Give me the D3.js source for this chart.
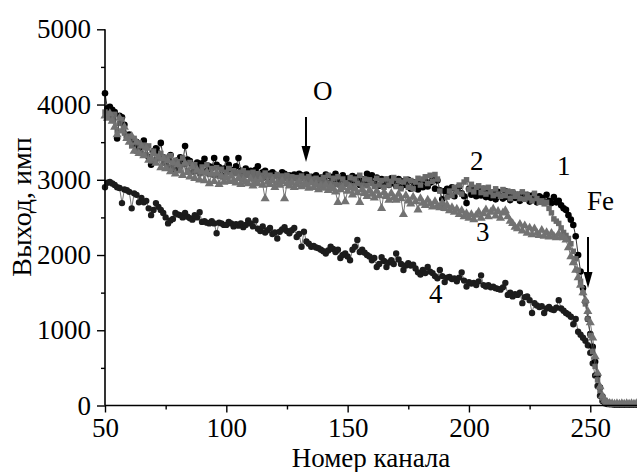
<!DOCTYPE html>
<html>
<head>
<meta charset="utf-8">
<script src="https://cdnjs.cloudflare.com/ajax/libs/d3/7.8.5/d3.min.js"></script>
<style>
  html, body { margin: 0; padding: 0; background: #fff; }
  svg { display: block; }
  text { font-family: "Liberation Serif", "Times New Roman", serif; fill: #000; }
</style>
</head>
<body>
<svg id="chart" width="637" height="472"></svg>
<script>
// ---- DATA (channel 50 .. 270, one value per channel) ----
const channelStart = 50;
const channelEnd = 270;
const xTicks = [50, 100, 150, 200, 250];
const xMinorTicks = [75, 125, 175, 225];
const yTicks = [0, 1000, 2000, 3000, 4000, 5000];
const yMinorTicks = [500, 1500, 2500, 3500, 4500];
const xTitle = "Номер канала";
const yTitle = "Выход, имп";

const series1 = [
  4150, 3950, 3970, 3930, 3900, 3550, 3850, 3830, 3730, 3570,
  3600, 3530, 3480, 3500, 3420, 3460, 3520, 3440, 3300, 3200,
  3380, 3420, 3350, 3490, 3300, 3220, 3280, 3330, 3180, 3130,
  3260, 3300, 3220, 3450, 3270, 3250, 3200, 3150, 3230, 3170,
  3220, 3280, 3120, 3180, 3160, 3290, 3200, 3170, 3060, 3150,
  3280, 3200, 3100, 3130, 3180, 3290, 3120, 3060, 3150, 3100,
  3120, 3080, 3130, 3180, 3050, 3100, 3120, 3030, 3080, 3100,
  3070, 3050, 3020, 3100, 3080, 3050, 3060, 3020, 3070, 3050,
  3080, 3060, 3050, 3070, 3000, 3040, 3020, 3060, 2990, 3030,
  3010, 3070, 2950, 3040, 2980, 3080, 2940, 3010, 3060, 2960,
  3020, 2950, 3050, 2970, 3030, 2930, 3010, 2960, 3080, 3000,
  3060, 2950, 3030, 2920, 3010, 2940, 3000, 2930, 3020, 2950,
  2920, 3010, 2900, 2980, 2930, 3000, 2880, 2970, 2940, 2870,
  2960, 2900, 2990, 2910, 2960, 3000, 2880, 2990, 2860, 2740,
  2850, 2880, 2800, 2900, 2780, 2870, 2910, 2820, 2780, 2690,
  2880, 2800, 2870, 2780, 2850, 2790, 2880, 2770, 2840, 2760,
  2830, 2740, 2840, 2780, 2750, 2850, 2770, 2730, 2830, 2760,
  2800, 2720, 2820, 2750, 2800, 2710, 2790, 2740, 2700, 2780,
  2760, 2700, 2800, 2720, 2690, 2770, 2700, 2720, 2660, 2620,
  2600, 2530, 2470, 2400, 2250, 2000, 1780, 1560, 1380, 1150,
  950, 780, 580, 400, 240, 120, 60, 35, 25, 20,
  20, 15, 20, 15, 20, 15, 20, 15, 20, 15,
  20
];

const series2 = [
  3900, 3880, 3850, 3800, 3870, 3650, 3750, 3800, 3620, 3560,
  3580, 3450, 3550, 3380, 3490, 3350, 3460, 3330, 3450, 3250,
  3380, 3270, 3290, 3350, 3220, 3300, 3170, 3320, 3150, 3260,
  3240, 3170, 3290, 3200, 3120, 3230, 3100, 3200, 3110, 3080,
  3170, 3090, 3200, 3070, 3150, 3060, 3160, 3050, 3140, 3030,
  3100, 3150, 3070, 3120, 3080, 3100, 3050, 3120, 3060, 3090,
  3050, 3100, 3030, 3080, 3060, 3020, 3090, 3040, 3060, 3010,
  3040, 3070, 3000, 3050, 3020, 3060, 2990, 3040, 3010, 3030,
  3000, 3050, 3020, 2980, 3040, 3010, 2970, 3020, 3000, 2960,
  3030, 2960, 3060, 2950, 3020, 2940, 3040, 2930, 3010, 2960,
  2940, 3030, 2920, 3010, 2950, 3060, 2930, 3010, 2920, 3000,
  2950, 2910, 3020, 2930, 2990, 2900, 3010, 2930, 2980, 3030,
  2910, 2990, 2880, 2970, 3010, 2900, 2990, 2880, 2970, 3020,
  2930, 3010, 3040, 2950, 3060, 2980, 3070, 3010, 2850, 2680,
  2620, 2770, 2850, 2790, 2900, 2840, 2930, 2810, 2970, 3000,
  2870, 2940, 2840, 2900, 2920, 2830, 2890, 2810, 2900, 2840,
  2790, 2880, 2810, 2780, 2870, 2790, 2850, 2750, 2840, 2780,
  2810, 2750, 2840, 2740, 2800, 2760, 2720, 2820, 2750, 2700,
  2720, 2680, 2700, 2620, 2560, 2480, 2450, 2420, 2360, 2300,
  2260, 2220, 2150, 2050, 1950, 1800, 1650, 1500, 1350, 1150,
  930, 720, 520, 340, 200, 100, 50, 30, 20, 15,
  15, 20, 15, 20, 15, 20, 15, 20, 15, 20,
  15
];

const series3 = [
  3850, 3820, 3880, 3780, 3700, 3600, 3820, 3650, 3700, 3550,
  3500, 3580, 3380, 3500, 3350, 3450, 3320, 3420, 3260, 3280,
  3350, 3220, 3300, 3160, 3280, 3150, 3250, 3110, 3220, 3080,
  3200, 3120, 3060, 3220, 3100, 3040, 3170, 3020, 3130, 3000,
  3110, 2990, 3100, 2950, 3080, 2980, 3090, 2940, 3050, 2970,
  3030, 2980, 3050, 2990, 2960, 3020, 2940, 3000, 2970, 2950,
  3010, 2920, 2980, 2950, 3000, 2930, 2750, 2970, 2940, 2990,
  2900, 2960, 2930, 2980, 2750, 2950, 2920, 2960, 2900, 2940,
  2970, 2910, 2950, 2930, 2890, 2960, 2900, 2940, 2870, 2920,
  2890, 2930, 2860, 2910, 2880, 2840, 2700, 2870, 2900, 2710,
  2850, 2900, 2800, 2880, 2830, 2700, 2870, 2820, 2780, 2860,
  2810, 2760, 2850, 2790, 2620, 2830, 2780, 2730, 2820, 2760,
  2730, 2810, 2750, 2540, 2790, 2720, 2680, 2770, 2710, 2600,
  2750, 2690, 2660, 2730, 2680, 2640, 2710, 2650, 2630, 2690,
  2620, 2660, 2590, 2630, 2570, 2610, 2540, 2590, 2510, 2550,
  2490, 2540, 2470, 2530, 2570, 2490, 2550, 2600, 2510, 2570,
  2610, 2520, 2580, 2490, 2560, 2590, 2510, 2450, 2420, 2370,
  2350, 2410, 2320, 2390, 2290, 2360, 2270, 2350, 2290, 2260,
  2330, 2250, 2300, 2240, 2290, 2250, 2230, 2280, 2240, 2230,
  2200, 2100, 1980, 1900, 1800, 1700, 1600, 1500, 1400, 1250,
  1100, 900, 650, 430, 250, 130, 70, 40, 30, 25,
  20, 25, 20, 25, 20, 25, 20, 25, 20, 25,
  20
];

const series4 = [
  2900, 2960, 2970, 2950, 2930, 2900, 2890, 2690, 2870, 2860,
  2840, 2620, 2820, 2800, 2700, 2760, 2700, 2720, 2620, 2530,
  2600, 2690, 2640, 2600, 2560, 2500, 2420, 2460, 2480, 2560,
  2540, 2530, 2500, 2560, 2510, 2490, 2470, 2530, 2500, 2570,
  2440, 2450, 2430, 2420, 2450, 2420, 2290, 2430, 2420, 2400,
  2400, 2440, 2420, 2380, 2410, 2390, 2420, 2370, 2400, 2460,
  2420, 2380, 2460, 2350, 2320, 2380, 2300, 2330, 2360, 2280,
  2300, 2220, 2310, 2340, 2370, 2320, 2290, 2330, 2360, 2240,
  2280, 2110, 2310, 2180, 2150, 2110, 2120, 2100, 2090, 2070,
  2050, 2020, 2060, 2110, 2080, 2040, 2070, 1960, 2000, 2020,
  1980, 1930, 2070, 2110, 2200, 2040, 2070, 2030, 2000, 1980,
  1930, 1960, 1840, 1880, 1970, 1920, 1840, 1900, 1930, 1880,
  2020, 1940, 1880, 1800, 1860, 1890, 1860, 1870, 1820, 1770,
  1740, 1800, 1760, 1840, 1780, 1760, 1720, 1690, 1800, 1720,
  1640, 1700, 1710, 1680, 1690, 1650, 1700, 1770, 1660, 1580,
  1640, 1620, 1630, 1600, 1650, 1730, 1600, 1580, 1600, 1570,
  1580, 1560, 1550, 1540, 1570, 1630, 1470, 1500, 1450, 1480,
  1470, 1500, 1360, 1440, 1450, 1400, 1230, 1360, 1330, 1310,
  1320, 1230, 1290, 1310, 1280, 1270, 1300, 1400, 1290, 1260,
  1230, 1210, 1180, 1080, 1150, 980, 940, 900, 860, 800,
  700, 560, 400, 260, 130, 60, 30, 20, 15, 15,
  10, 15, 10, 15, 10, 15, 10, 15, 10, 15,
  10
];

// ---- LAYOUT ----
const svg = d3.select("#chart");
const plot = { left: 105, right: 638.8, top: 29.3, bottom: 405.5 };

const x = d3.scaleLinear().domain([channelStart, channelEnd]).range([plot.left, plot.right]);
const y = d3.scaleLinear().domain([0, 5000]).range([plot.bottom, plot.top]);

const toPoints = arr => arr.map((v, i) => ({ c: channelStart + i, v }));
const lineGen = d3.line().x(d => x(d.c)).y(d => y(d.v));
const g = svg.append("g");

function drawSeries(data, opts) {
  const pts = toPoints(data);
  g.append("path")
    .attr("d", lineGen(pts))
    .attr("fill", "none")
    .attr("stroke", opts.lineColor)
    .attr("stroke-width", opts.lineWidth);
  const sym = d3.symbol().type(opts.symbol).size(opts.size);
  g.append("g").selectAll("path")
    .data(pts)
    .join("path")
    .attr("d", sym)
    .attr("transform", d => `translate(${x(d.c)},${y(d.v)})`)
    .attr("fill", opts.fill);
}

drawSeries(series4, { lineColor: "#555", lineWidth: 0.8, symbol: d3.symbolCircle, size: 32, fill: "#1c1c1c" });
drawSeries(series1, { lineColor: "#000", lineWidth: 0.8, symbol: d3.symbolCircle, size: 34, fill: "#000" });
drawSeries(series2, { lineColor: "#555", lineWidth: 0.8, symbol: d3.symbolSquare, size: 30, fill: "#6a6a6a" });
drawSeries(series3, { lineColor: "#555", lineWidth: 0.8, symbol: d3.symbolTriangle, size: 36, fill: "#727272" });

// ---- AXES ----
const fontSize = 27;

const yAxis = d3.axisLeft(y).tickValues(yTicks).tickSize(8).tickSizeOuter(0).tickPadding(6).tickFormat(d3.format("d"));
const yAxisG = svg.append("g").attr("transform", `translate(${plot.left},0)`).call(yAxis);
yAxisG.attr("font-family", null);
yAxisG.select(".domain").attr("stroke", "#000").attr("stroke-width", 1.6)
  .attr("d", `M0,${plot.bottom}V${plot.top}`);
yAxisG.selectAll(".tick line").attr("stroke-width", 1.4);
yAxisG.selectAll(".tick text").attr("font-size", fontSize);
svg.append("g").attr("transform", `translate(${plot.left},0)`)
  .call(d3.axisLeft(y).tickValues(yMinorTicks).tickSize(4).tickFormat(""))
  .call(s => s.select(".domain").remove())
  .selectAll(".tick line").attr("stroke-width", 1.4);

const xAxis = d3.axisBottom(x).tickValues(xTicks).tickSize(7).tickSizeOuter(0).tickPadding(5).tickFormat(d3.format("d"));
const xAxisG = svg.append("g").attr("transform", `translate(0,${plot.bottom})`).call(xAxis);
xAxisG.attr("font-family", null);
xAxisG.select(".domain").attr("stroke", "#000").attr("stroke-width", 1.6)
  .attr("d", `M${plot.left},0H${plot.right}`);
xAxisG.selectAll(".tick line").attr("stroke-width", 1.4);
xAxisG.selectAll(".tick text").attr("font-size", fontSize);
svg.append("g").attr("transform", `translate(0,${plot.bottom})`)
  .call(d3.axisBottom(x).tickValues(xMinorTicks).tickSize(4).tickFormat(""))
  .call(s => s.select(".domain").remove())
  .selectAll(".tick line").attr("stroke-width", 1.4);

// axis titles
svg.append("text")
  .attr("x", 371).attr("y", 467)
  .attr("text-anchor", "middle")
  .attr("font-size", 27)
  .text(xTitle);

svg.append("text")
  .attr("transform", "translate(31,207) rotate(-90)")
  .attr("text-anchor", "middle")
  .attr("font-size", 28)
  .text(yTitle);

// ---- ANNOTATIONS ----
const labels = [
  { t: "O", x: 313, y: 100 },
  { t: "2", x: 470, y: 170 },
  { t: "1", x: 557, y: 175 },
  { t: "Fe", x: 587, y: 210 },
  { t: "3", x: 476, y: 241 },
  { t: "4", x: 429, y: 303 }
];
svg.append("g").selectAll("text").data(labels).join("text")
  .attr("x", d => d.x).attr("y", d => d.y)
  .attr("font-size", 27)
  .text(d => d.t);

function arrow(xp, y0, y1) {
  svg.append("line").attr("x1", xp).attr("x2", xp).attr("y1", y0).attr("y2", y1 - 10)
    .attr("stroke", "#000").attr("stroke-width", 2);
  svg.append("path")
    .attr("d", `M${xp - 4.5},${y1 - 16} L${xp + 4.5},${y1 - 16} L${xp},${y1} Z`)
    .attr("fill", "#000");
}
arrow(306, 117, 162);
arrow(588, 237, 288);
</script>
</body>
</html>
